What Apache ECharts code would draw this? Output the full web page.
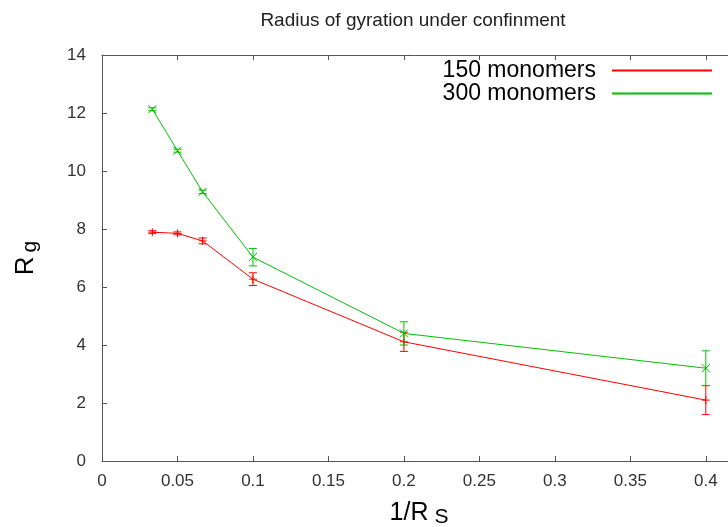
<!DOCTYPE html>
<html>
<head>
<meta charset="utf-8">
<script src="https://cdn.jsdelivr.net/npm/echarts@6/dist/echarts.min.js"></script>
<style>html,body{margin:0;padding:0;background:#fff}#c{width:728px;height:527px}</style>
</head>
<body>
<div id="c"></div>
<script>
// Data
const invRs = [1/30, 0.05, 1/15, 0.1, 0.2, 0.4];
const rg150 = [7.89, 7.85, 7.59, 6.27, 4.11, 2.10];
const err150 = [0.05, 0.05, 0.10, 0.22, 0.33, 0.50];
const rg300 = [12.13, 10.70, 9.28, 7.03, 4.40, 3.20];
const err300 = [0.05, 0.05, 0.06, 0.30, 0.40, 0.60];
const seriesNames = ['150 monomers', '300 monomers'];
const xTicks = [0, 0.05, 0.1, 0.15, 0.2, 0.25, 0.3, 0.35, 0.4];
const yTicks = [0, 2, 4, 6, 8, 10, 12, 14];

const RED = '#ff0000', GREEN = '#00c000';
const FONT = '"Liberation Sans", Arial, sans-serif';

function rowsOf(ys, es) { return invRs.map((x, i) => [x, ys[i], es[i]]); }

function errRender(kind) {
  return function (params, api) {
    const x = api.value(0), y = api.value(1), e = api.value(2);
    const p = api.coord([x, y]);
    const t = api.coord([x, y + e]);
    const b = api.coord([x, y - e]);
    const color = api.visual('color');
    const cap = 4, m = 4;
    const lines = [
      [t[0], t[1], b[0], b[1]],
      [t[0] - cap, t[1], t[0] + cap, t[1]],
      [b[0] - cap, b[1], b[0] + cap, b[1]]
    ];
    if (kind === 'plus') {
      lines.push([p[0] - m, p[1], p[0] + m, p[1]], [p[0], p[1] - m, p[0], p[1] + m]);
    } else {
      lines.push([p[0] - m, p[1] - m, p[0] + m, p[1] + m], [p[0] - m, p[1] + m, p[0] + m, p[1] - m]);
    }
    return {
      type: 'group',
      children: lines.map(l => ({
        type: 'line',
        shape: { x1: l[0], y1: l[1], x2: l[2], y2: l[3] },
        style: { stroke: color, lineWidth: 1 }
      }))
    };
  };
}

const xFmt = v => {
  const k = v / 0.05;
  if (Math.abs(k - Math.round(k)) > 1e-6) return '';
  return String(+v.toFixed(2));
};

const axisLineStyle = { color: '#555', width: 1 };

const option = {
  animation: false,
  backgroundColor: '#fff',
  title: {
    text: 'Radius of gyration under confinment',
    left: 408, top: 6, textAlign: 'center',
    textStyle: { fontFamily: FONT, fontSize: 19, fontWeight: 'normal', color: '#222' }
  },
  legend: {
    orient: 'vertical',
    right: 11, top: 54,
    align: 'right',
    itemGap: 0,
    itemWidth: 100, itemHeight: 2,
    icon: 'rect',
    data: seriesNames,
    textStyle: { fontFamily: FONT, fontSize: 23, color: '#000', lineHeight: 22, padding: [0, 11, 0, 0] }
  },
  grid: { left: 102, top: 55, width: 634, height: 406, outerBoundsMode: 'none', containLabel: false },
  xAxis: [{
    type: 'value', min: 0, max: 0.42, interval: 0.05,
    name: '{a|1/R}{s|S}',
    nameLocation: 'middle', nameGap: 37,
    nameTextStyle: {
      rich: {
        a: { fontFamily: FONT, fontSize: 25, color: '#000', lineHeight: 30 },
        s: { fontFamily: FONT, fontSize: 21, color: '#000', lineHeight: 14, verticalAlign: 'bottom', padding: [0, 0, 0, 6] }
      }
    },
    axisLine: { lineStyle: axisLineStyle },
    axisTick: { inside: true, length: 5, lineStyle: axisLineStyle },
    axisLabel: { formatter: xFmt, margin: 12, fontFamily: FONT, fontSize: 17, color: '#333' },
    splitLine: { show: false }
  }, {
    type: 'value', min: 0, max: 0.42, interval: 0.05, position: 'top',
    axisLine: { lineStyle: axisLineStyle },
    axisTick: { inside: true, length: 5, lineStyle: axisLineStyle },
    axisLabel: { show: false },
    splitLine: { show: false }
  }],
  yAxis: {
    type: 'value', min: yTicks[0], max: yTicks[yTicks.length - 1], interval: 2,
    name: '{a|R}{s|g}',
    nameLocation: 'middle', nameGap: 61, nameRotate: 90,
    nameTextStyle: {
      rich: {
        a: { fontFamily: FONT, fontSize: 26, color: '#000', lineHeight: 30 },
        s: { fontFamily: FONT, fontSize: 21, color: '#000', lineHeight: 14, verticalAlign: 'bottom', padding: [0, 0, 0, 4] }
      }
    },
    axisLine: { show: true, lineStyle: axisLineStyle },
    axisTick: { show: true, inside: true, length: 5, lineStyle: axisLineStyle },
    axisLabel: { margin: 16, fontFamily: FONT, fontSize: 17, color: '#333' },
    splitLine: { show: false }
  },
  series: [
    {
      name: seriesNames[0], type: 'line', data: invRs.map((x, i) => [x, rg150[i]]),
      symbol: 'none', color: RED, lineStyle: { color: RED, width: 1 }
    },
    {
      name: seriesNames[1], type: 'line', data: invRs.map((x, i) => [x, rg300[i]]),
      symbol: 'none', color: GREEN, lineStyle: { color: GREEN, width: 1 }
    },
    {
      name: 'err150', type: 'custom', data: rowsOf(rg150, err150), color: RED,
      encode: { x: 0, y: 1 }, renderItem: errRender('plus')
    },
    {
      name: 'err300', type: 'custom', data: rowsOf(rg300, err300), color: GREEN,
      encode: { x: 0, y: 1 }, renderItem: errRender('cross')
    }
  ]
};

const chart = echarts.init(document.getElementById('c'), null, { renderer: 'canvas' });
chart.setOption(option);
</script>
</body>
</html>
